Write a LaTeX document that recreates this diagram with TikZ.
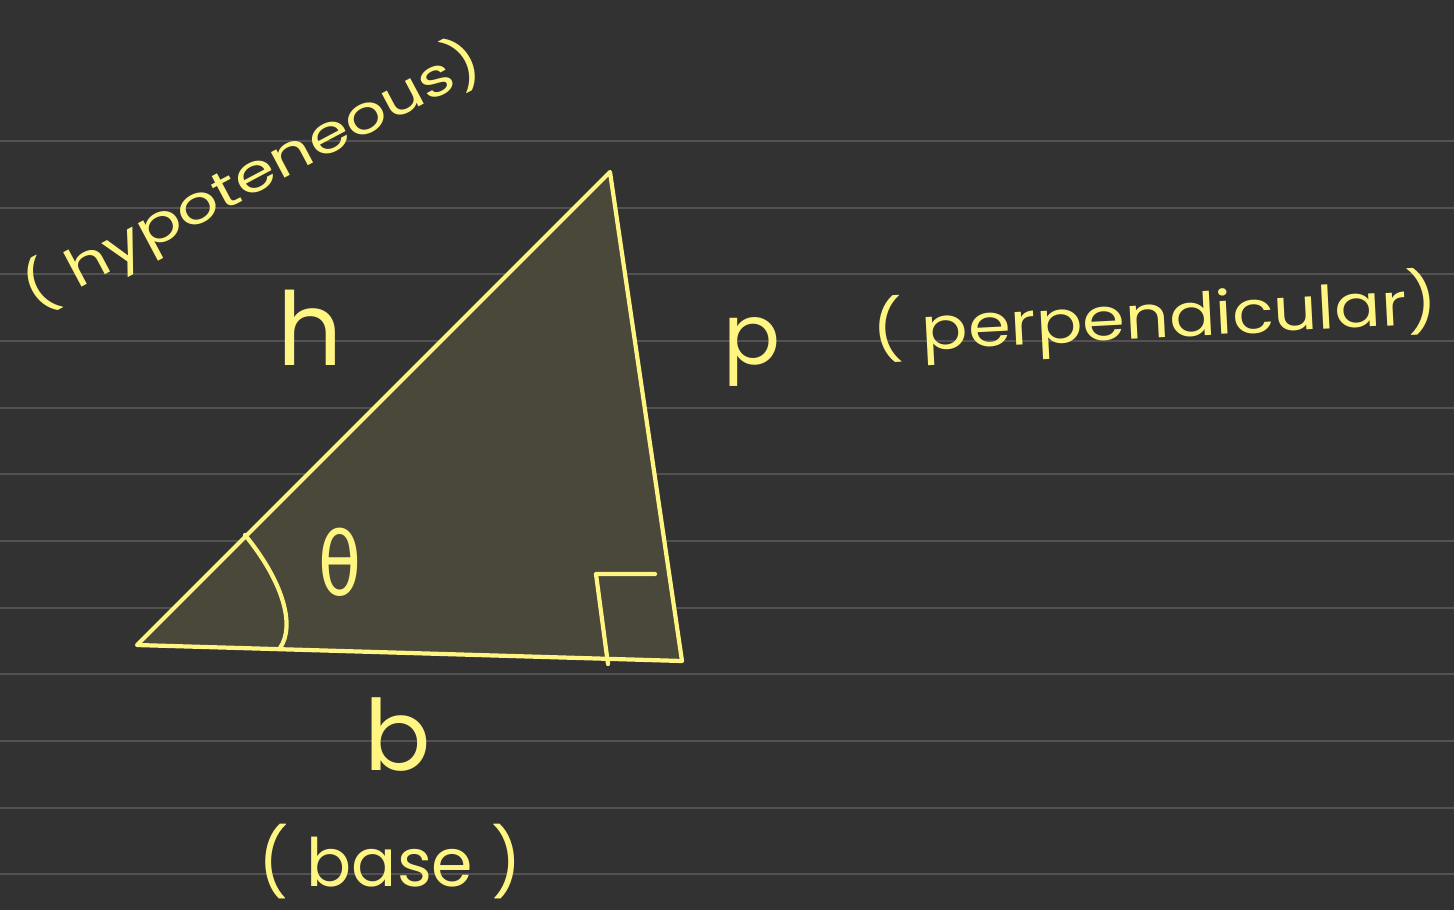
\documentclass[tikz,border=0pt]{standalone}
\usepackage{fontspec}
\setmainfont{Poppins}
\newfontfamily\greekfont{DejaVu Sans}
\definecolor{bgc}{RGB}{50,50,50}
\definecolor{rulec}{RGB}{82,82,82}
\definecolor{ink}{RGB}{255,245,130}
\definecolor{fillc}{RGB}{73,72,58}
\tikzset{
  ruleline/.style={draw=rulec, line width=1.2pt},
  pen/.style={draw=ink, line width=2.4pt, line cap=round, line join=round},
  hand/.style={text=ink, inner sep=0pt, font=#1},
}
\begin{document}
\begin{tikzpicture}[x=0.02cm, y=-0.02cm]
\fill[bgc] (0,0) rectangle (1454,910);
\useasboundingbox (0,0) rectangle (1454,910);
\foreach \k in {0,...,11} {
  \draw[ruleline] (0,{141+66.67*\k}) -- (1454,{141+66.67*\k});
}
% triangle
\coordinate (A) at (137,645);
\coordinate (B) at (610,172);
\coordinate (C) at (682,661);
\filldraw[pen, fill=fillc] (A) -- (B) -- (C) -- cycle;
% right angle marker
\coordinate (R0) at (596,574);
\coordinate (R1) at (655,574);
\coordinate (R2) at (608,664);
\draw[pen] (R1) -- (R0) -- (R2);
% angle arc
\coordinate (T0) at (245,535);
\coordinate (T1) at (280,648);
\draw[pen] (T0) .. controls (282,580) and (296,625) .. (T1);
% labels
\node[hand={\fontsize{58}{58}\selectfont}] (hl) at (310,328) {h};
\node[hand={\fontsize{48}{48}\selectfont}] (pl) at (752,352) {p};
\node[hand={\greekfont\fontsize{50}{50}\selectfont}, xscale=0.8, transform shape] (th) at (340,562) {θ};
\node[hand={\fontsize{56}{56}\selectfont}] (bl) at (398,735) {b};
\node[hand={\fontsize{38}{38}\selectfont}] (base) at (390,862) {( base )};
\node[hand={\fontsize{34}{34}\selectfont}, rotate=3, xscale=1.15, transform shape] (perp) at (1155,318) {( perpendicular)};
\node[hand={\fontsize{30}{30}\selectfont}, rotate=28, xscale=1.25, transform shape] (hyp) at (252,176) {( hypoteneous)};
\end{tikzpicture}
\end{document}
